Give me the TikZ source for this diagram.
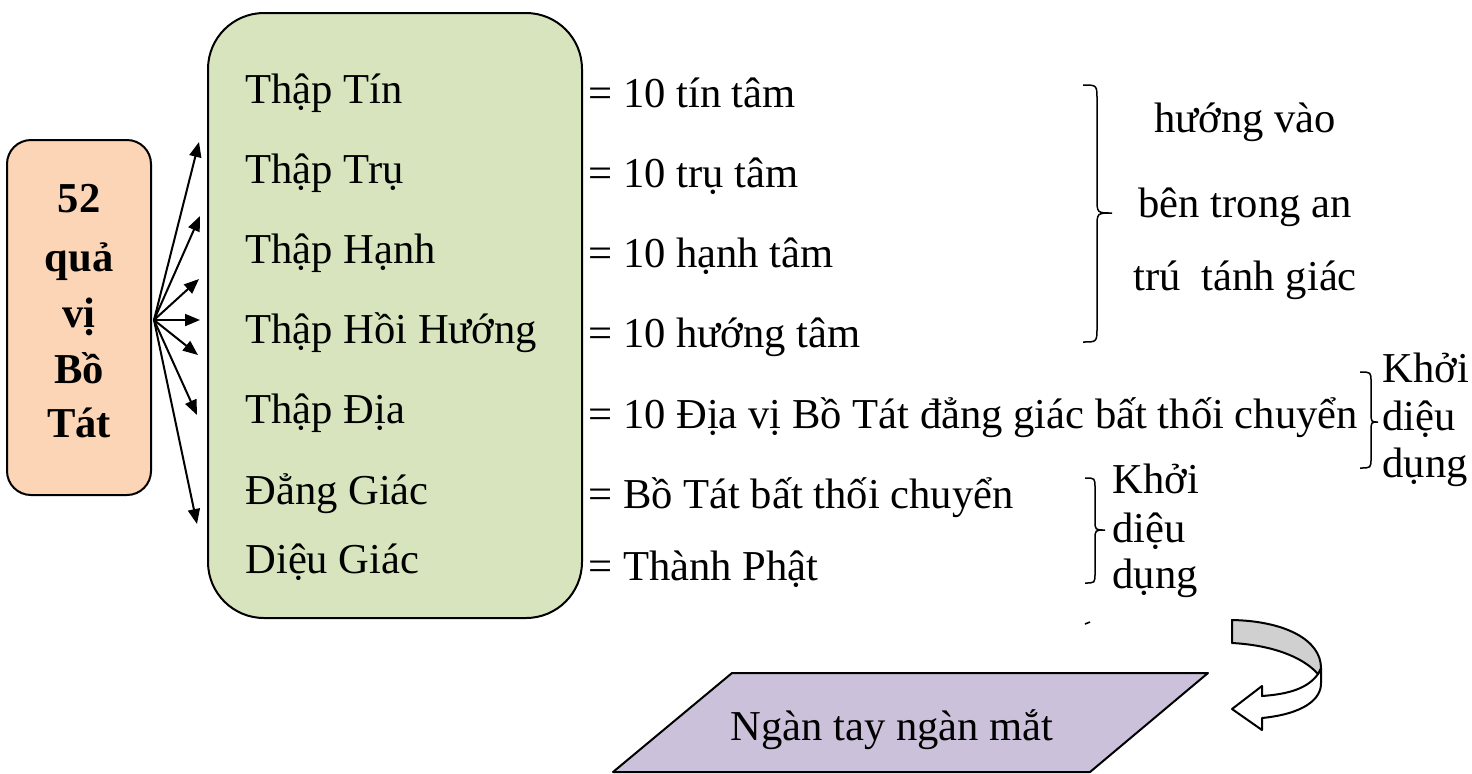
\documentclass[tikz,border=0pt]{standalone}
\usepackage{fontspec}
\setmainfont{Liberation Serif}
\usetikzlibrary{arrows.meta}
\definecolor{orangefill}{HTML}{FBD5B5}
\definecolor{greenfill}{HTML}{D7E4BD}
\definecolor{purplefill}{HTML}{CCC1DA}
\definecolor{bandgray}{HTML}{D0D0D0}
\begin{document}
\begin{tikzpicture}[x=0.5pt,y=-0.5pt,
  txt/.style={font=\fontsize{21.3}{25}\selectfont, inner sep=0pt, anchor=base west},
  ctxt/.style={font=\fontsize{21.3}{25}\selectfont, inner sep=0pt, anchor=base},
  btxt/.style={font=\fontsize{21.3}{25}\selectfont\bfseries, inner sep=0pt, anchor=base},
  ray/.style={line width=1pt, -{Triangle[length=7.5pt,width=6pt]}},
  bracepath/.style={line width=0.75pt},
  outline/.style={line width=1pt, line join=round},
  ]
\useasboundingbox (0,0) rectangle (1472,773);

% boxes
\node[outline, draw, fill=orangefill, rounded corners=12pt, minimum width=72pt, minimum height=177.5pt, inner sep=0pt] (bosat) at (79,317.5) {};
\node[outline, draw, fill=greenfill, rounded corners=28pt, minimum width=187pt, minimum height=302.5pt, inner sep=0pt] (levels) at (395,315.5) {};

% orange box text
\node[btxt] (b1) at (79,212) {52};
\node[btxt] (b2) at (79,271) {quả};
\node[btxt] (b3) at (79,327) {vị};
\node[btxt] (b4) at (79,383) {Bồ};
\node[btxt] (b5) at (79,437) {Tát};

% arrows
\coordinate (hub) at (154,320);
\coordinate (t1) at (199,142);
\coordinate (t2) at (200,216);
\coordinate (t3) at (199,279);
\coordinate (t4) at (200,320);
\coordinate (t5) at (198,355);
\coordinate (t6) at (197,415);
\coordinate (t7) at (197,524);
\foreach \t in {t1,t2,t3,t4,t5,t6,t7} \draw[ray] (hub) -- (\t);

% left column
\node[txt] (l1) at (245,103) {Thập Tín};
\node[txt] (l2) at (245,183) {Thập Trụ};
\node[txt] (l3) at (245,263) {Thập Hạnh};
\node[txt] (l4) at (245,343) {Thập Hồi Hướng};
\node[txt] (l5) at (245,423) {Thập Địa};
\node[txt] (l6) at (245,504) {Đẳng Giác};
\node[txt] (l7) at (245,573) {Diệu Giác};

% right column
\node[txt] (r1) at (588,107) {= 10 tín tâm};
\node[txt] (r2) at (588,187) {= 10 trụ tâm};
\node[txt] (r3) at (588,267) {= 10 hạnh tâm};
\node[txt] (r4) at (588,347) {= 10 hướng tâm};
\node[txt] (r5) at (588,428) {= 10 Địa vị Bồ Tát đẳng giác bất thối chuyển};
\node[txt] (r6) at (588,508) {= Bồ Tát bất thối chuyển};
\node[txt] (r7) at (588,580) {= Thành Phật};

% brace 1
\draw[bracepath] (1083,85) .. controls (1097,85) .. (1097,100) -- (1097,198) .. controls (1097,213) .. (1112,213) .. controls (1097,213) .. (1097,228) -- (1097,327) .. controls (1097,342) .. (1083,342);
\node[ctxt] (h1) at (1245,132) {hướng vào};
\node[ctxt] (h2) at (1245,217) {bên trong an};
\node[ctxt] (h3) at (1245,290) {trú\ \ tánh giác};

% brace 2
\draw[bracepath] (1360,372) .. controls (1371,372) .. (1371,382) -- (1371,412) .. controls (1371,422) .. (1378,422) .. controls (1371,422) .. (1371,432) -- (1371,458) .. controls (1371,468) .. (1360,468);
\node[txt] (k1) at (1382,382) {Khởi};
\node[txt] (k2) at (1382,430) {diệu};
\node[txt] (k3) at (1382,477) {dụng};

% brace 3
\draw[bracepath] (1085,478) .. controls (1095,478) .. (1095,488) -- (1095,520) .. controls (1095,530) .. (1105,530) .. controls (1095,530) .. (1095,540) -- (1095,573) .. controls (1095,583) .. (1085,583);
\node[txt] (m1) at (1112,493) {Khởi};
\node[txt] (m2) at (1112,542) {diệu};
\node[txt] (m3) at (1112,588) {dụng};

% stray mark
\draw[line width=0.8pt] (1085,624) -- (1090,622);

% parallelogram
\draw[outline, fill=purplefill] (732,673) -- (1208,673) -- (1090,772) -- (613,772) -- cycle;
\node[ctxt] (ngan) at (892,740) {Ngàn tay ngàn mắt};

% curved arrow
\draw[outline, fill=white] (1318,674) .. controls (1308,688) and (1290,694) .. (1262,696) -- (1262,686) -- (1232,709) -- (1262,730) -- (1262,718) .. controls (1302,714) and (1322,700) .. (1321,682) -- (1321,668) -- cycle;
\draw[outline, fill=bandgray] (1232,620) .. controls (1285,621) and (1321,640) .. (1321,668) -- (1318,674) .. controls (1302,656) and (1270,645) .. (1232,643) -- cycle;
\end{tikzpicture}
\end{document}
